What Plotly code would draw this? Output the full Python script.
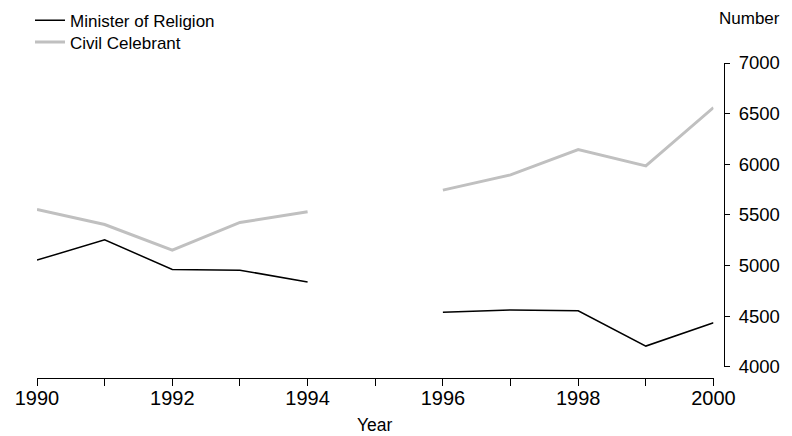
import plotly.graph_objects as go

years = [1990, 1991, 1992, 1993, 1994, 1995, 1996, 1997, 1998, 1999, 2000]
minister = [5053, 5253, 4961, 4954, 4836, None, 4537, 4560, 4553, 4204, 4434]
civil = [5553, 5405, 5152, 5425, 5530, None, 5744, 5895, 6145, 5984, 6560]
x_ticks = [1990, 1992, 1994, 1996, 1998, 2000]
y_ticks = [4000, 4500, 5000, 5500, 6000, 6500, 7000]

FONT = "Liberation Sans, Arial, sans-serif"

fig = go.Figure()
fig.add_trace(go.Scatter(x=years, y=minister, mode="lines", name="Minister of Religion",
                         line=dict(color="#000000", width=1.5), connectgaps=False,
                         legend="legend"))
fig.add_trace(go.Scatter(x=years, y=civil, mode="lines", name="Civil Celebrant",
                         line=dict(color="#c0c0c0", width=3), connectgaps=False,
                         legend="legend2"))

W, H = 792, 436
l, r, t, b = 37, 68, 62.5, 58
pw = W - l - r
ph = H - t - b


def px(xp):
    return (xp - l) / pw


def py(yp):
    return (H - b - yp) / ph


leg_common = dict(xref="container", yref="container", xanchor="left", yanchor="top",
                  font=dict(size=17), bgcolor="rgba(0,0,0,0)", itemwidth=30)

fig.update_layout(
    width=W, height=H,
    margin=dict(l=l, r=r, t=t, b=b, autoexpand=False),
    paper_bgcolor="white", plot_bgcolor="white",
    font=dict(family=FONT, color="#000000", size=17),
    showlegend=True,
    legend=dict(x=30 / W, y=1 - 2.8 / H, **leg_common),
    legend2=dict(x=30 / W, y=1 - 24.5 / H, **leg_common),
    xaxis=dict(range=[1990, 2000], domain=[0, (713.5 - l) / pw], anchor="free", position=0,
               showgrid=False, zeroline=False, showline=True, linecolor="#000", linewidth=1,
               ticks="outside", ticklen=7, tickcolor="#000",
               tickvals=list(range(1990, 2001)),
               ticktext=[str(y) if y in x_ticks else "" for y in range(1990, 2001)],
               tickfont=dict(size=20), ticklabelstandoff=-5),
    yaxis=dict(range=[4000, 7000], domain=[(378 - 366.7) / ph, 1], side="right",
               anchor="free", position=1,
               showgrid=False, zeroline=False, showline=True, linecolor="#000", linewidth=1,
               ticks="outside", ticklen=5, tickcolor="#000", tickvals=y_ticks,
               tickfont=dict(size=18.5), ticklabelstandoff=5),
)

fig.add_annotation(text="Year", xref="x", yref="paper", x=1995, y=py(425),
                   showarrow=False, font=dict(size=17.5), xanchor="center", yanchor="middle")
fig.add_annotation(text="Number", xref="paper", yref="paper", x=px(782), y=py(18),
                   showarrow=False, font=dict(size=17), xanchor="right", yanchor="middle")

fig.write_html("out.html", config={"displayModeBar": False},
               post_script="document.body.style.margin='0';document.body.style.overflow='hidden';")
